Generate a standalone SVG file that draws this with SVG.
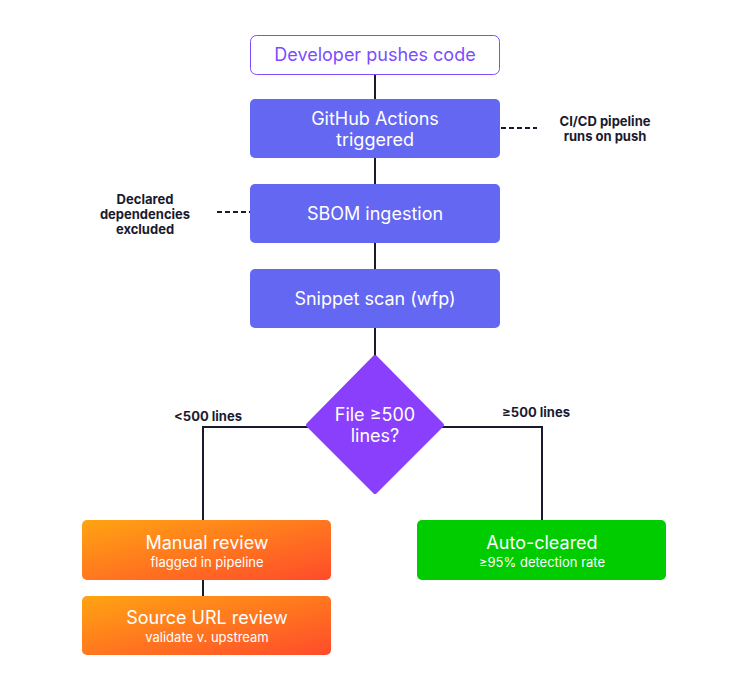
<svg xmlns="http://www.w3.org/2000/svg" width="750" height="690" viewBox="0 0 750 690">
<defs>
<linearGradient id="og" x1="0" y1="0" x2="1" y2="1"><stop offset="0" stop-color="#FFA412"/><stop offset="1" stop-color="#FF4B2B"/></linearGradient>
<style>
.b{fill:#6467F2}
.t{font-family:Inter,"Liberation Sans",sans-serif;fill:#fff;text-anchor:middle}
.m{font-size:18px}
.s{font-size:13px}
.a{font-family:Inter,"Liberation Sans",sans-serif;font-weight:bold;font-size:13px;fill:#1a1a2e;text-anchor:middle}
.c{stroke:#1a1a2e;stroke-width:2;fill:none}
.d{stroke:#1a1a2e;stroke-width:2;fill:none;stroke-dasharray:5 3}
</style>
</defs>
<rect width="750" height="690" fill="#fff"/>
<g id="connectors">
<path class="c" d="M375 74V99M375 158V184M375 243V269M375 328V360"/>
<path class="c" d="M310 427H203V520M440 427H542V520M203 580V596"/>
<path class="d" d="M501 128H537M217 212H250"/>
</g>
<g id="n1"><rect x="250.5" y="35.5" width="249" height="39" rx="6" fill="#fff" stroke="#7B4DFF"/><text class="t m" x="375" y="61" style="fill:#7B4DFF">Developer pushes code</text></g>
<g id="n2"><rect class="b" x="250" y="99" width="250" height="59" rx="5"/><text class="t m" x="375" y="125">GitHub Actions</text><text class="t m" x="375" y="146">triggered</text></g>
<g id="n3"><rect class="b" x="250" y="184" width="250" height="59" rx="5"/><text class="t m" x="375" y="220">SBOM ingestion</text></g>
<g id="n4"><rect class="b" x="250" y="269" width="250" height="59" rx="5"/><text class="t m" x="375" y="305">Snippet scan (wfp)</text></g>
<g id="n5"><path d="M375 357L442 425L375 492L308 425Z" fill="#8A3FFC" stroke="#8A3FFC" stroke-width="4" stroke-linejoin="round"/><text class="t m" x="375" y="421">File ≥500</text><text class="t m" x="375" y="442">lines?</text></g>
<g id="n6"><rect x="82" y="520" width="249" height="60" rx="5" fill="url(#og)"/><text class="t m" x="207" y="549">Manual review</text><text class="t s" x="207" y="567">flagged in pipeline</text></g>
<g id="n7"><rect x="82" y="596" width="249" height="59" rx="5" fill="url(#og)"/><text class="t m" x="207" y="624">Source URL review</text><text class="t s" x="207" y="642">validate v. upstream</text></g>
<g id="n8"><rect x="417" y="520" width="249" height="60" rx="5" fill="#00CC00"/><text class="t m" x="542" y="549">Auto-cleared</text><text class="t s" x="542" y="567">≥95% detection rate</text></g>
<g id="labels">
<text class="a" x="605" y="126">CI/CD pipeline</text><text class="a" x="605" y="141">runs on push</text>
<text class="a" x="145" y="204">Declared</text><text class="a" x="145" y="219">dependencies</text><text class="a" x="145" y="234">excluded</text>
<text class="a" x="208" y="421">&lt;500 lines</text>
<text class="a" x="536" y="417">≥500 lines</text>
</g>
</svg>
